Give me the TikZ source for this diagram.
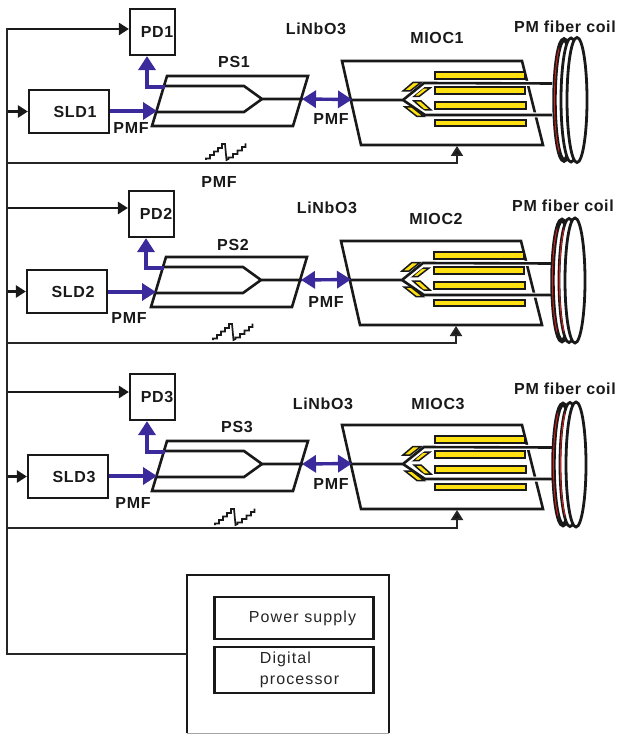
\documentclass[tikz,border=0pt]{standalone}
\usepackage{fontspec}
\setmainfont{Liberation Sans}
\newfontfamily\labf[LetterSpace=4]{Liberation Sans}
\newfontfamily\plainf[LetterSpace=7]{Liberation Sans}
\usetikzlibrary{arrows.meta}
\definecolor{fibreblue}{HTML}{3A2A9B}
\definecolor{chipyellow}{HTML}{FFE010}
\definecolor{coilred}{HTML}{D8201C}
\tikzset{
  lab/.style={inner sep=0pt,text=black!90,font=\labf\bfseries\fontsize{16}{18}\selectfont},
  boxed/.style={draw=black!90,line width=2.2pt,inner sep=0pt,text=black!90,font=\labf\bfseries\fontsize{16}{18}\selectfont},
  chip/.style={draw=black!90,line width=2.6pt,line join=miter},
  guide/.style={draw=black!90,line width=2.6pt,line join=miter},
  halo/.style={draw=white,line width=5pt},
  blue/.style={draw=fibreblue,line width=3.4pt,-{Triangle[length=14pt,width=17pt,fill=fibreblue]}},
  bluetwo/.style={draw=fibreblue,line width=3.4pt,{Triangle[length=14pt,width=17pt,fill=fibreblue]}-{Triangle[length=14pt,width=17pt,fill=fibreblue]}},
  ctl/.style={draw=black!90,line width=2.8pt,-{Triangle[length=10pt,width=12pt,fill=black!90]}},
  bus/.style={draw=black!85,line width=2pt,-{Triangle[length=10pt,width=12pt,fill=black!90]}},
  rail/.style={draw=black!85,line width=2pt},
  elec/.style={fill=chipyellow,draw=black!90,line width=1.5pt},
  coilring/.style={draw=black!90,fill=white,line width=2.8pt},
  saw/.style={draw=black!90,line width=1.7pt},
}
\newcommand\stage[8]{%
  % #1 id, #2 PD shift, #3 SLD shift, #4 PS shift, #5 MIOC shift, #6 bus y, #7 saw x, #8 PD arrow y
  \begin{scope}[shift={(#2)}]
    \node[boxed,minimum width=45pt,minimum height=46pt] (PD#1) at (152.5,32) {\hspace*{9pt}PD#1};
  \end{scope}
  \begin{scope}[shift={(#3)}]
    \node[boxed,minimum width=80pt,minimum height=43pt] (SLD#1) at (69,111.5) {\hspace*{12pt}SLD#1};
  \end{scope}
  \begin{scope}[shift={(#4)}]
    \draw[chip] (167,76) -- (308,76) -- (293,126) -- (152,126) -- cycle;
    \draw[guide] (165,86) -- (244,86) -- (262,99) -- (303,99);
    \draw[guide] (157,112) -- (244,112) -- (262,99);
    \coordinate (PSin#1) at (157,111);
    \coordinate (PStap#1) at (165,87);
    \coordinate (PScorner#1) at (147,87);
    \coordinate (PSout#1) at (302,99);
  \end{scope}
  \begin{scope}[shift={(#5)}]
    \draw[chip] (342,61) -- (522,61) -- (543,145) -- (361,145) -- cycle;
    \draw[elec] (435,72) rectangle (525,79);
    \draw[elec] (435,87) rectangle (525,94);
    \draw[elec] (435,102) rectangle (526,109);
    \draw[elec] (435,120) rectangle (526,126);
    \draw[halo] (403,100) -- (424,83) -- (552,83.5);
    \draw[halo] (403,100) -- (425,115) -- (552,115);
    \draw[elec] (403,91) -- (413,82.5) -- (421,82.5) -- (410,91) -- cycle;
    \draw[elec] (413,96.5) -- (423,88) -- (430,88) -- (419,96.5) -- cycle;
    \draw[elec] (414,101) -- (421,101) -- (431,110) -- (424,110) -- cycle;
    \draw[elec] (405,107) -- (412,107) -- (424,116.5) -- (417,116.5) -- cycle;
    \draw[halo,line width=4pt] (405,100) -- (425,84);
    \draw[halo,line width=4pt] (405,100) -- (426,114);
    \draw[guide] (352,100) -- (403,100) -- (424,83) -- (552,83.5);
    \draw[guide] (403,100) -- (425,115) -- (552,115);
    \coordinate (MIOCin#1) at (352,99.5);
    \coordinate (MIOCb#1) at (457,146);
  \end{scope}
  \draw[blue] (SLD#1.east |- PSin#1) -- (PSin#1);
  \draw[blue] (PStap#1) -- (PScorner#1) -- (PScorner#1 |- PD#1.south);
  \draw[bluetwo] (PSout#1) -- (MIOCin#1);
  \coordinate (RP#1) at (7,#8);
  \coordinate (BUS#1) at (7,#6);
  \draw[ctl] (RP#1) -- (RP#1 -| PD#1.west);
  \draw[ctl] (RP#1 |- SLD#1.west) -- (SLD#1.west);
  \draw[bus] (BUS#1) -| (MIOCb#1);
  \draw[saw] (#7,#6-3) -- ++(0,-1.5) -- ++(4,0) -- ++(0,-3.5) -- ++(4,0) -- ++(0,-3.5) -- ++(4,0) -- ++(0,-3.5) -- ++(4,0) -- ++(0,-4) -- ++(3,0) -- ++(1.5,16) -- ++(2,-1) -- ++(0,-1.5) -- ++(4.5,0) -- ++(0,-3.5) -- ++(4.5,0) -- ++(0,-3.5) -- ++(4.5,0) -- ++(0,-3.5) -- ++(3.5,0) -- ++(0,-3.5);
}
% #1 ring centre x, #2 centre y
\newcommand\redring[2]{%
  \begin{scope}
    \clip (#1-12,#2-70) rectangle (#1-5,#2+70);
    \draw[coilred,line width=0.9pt] (#1,#2) ellipse [x radius=9.6,y radius=60];
  \end{scope}
}
\newcommand\coilat[3]{%
  \draw[coilring,line width=4.4pt] (#1-13,#2) ellipse [x radius=9.5,y radius=60.5];
  \redring{#1-13}{#2}
  \draw[coilring] (#1-6,#2) ellipse [x radius=10,y radius=62];
  #3
  \draw[coilring] (#1,#2) ellipse [x radius=10,y radius=62.5];
}
\begin{document}
\begin{tikzpicture}[x=1pt,y=-1pt]
\useasboundingbox (0,0) rectangle (618,735);
\fill[white] (0,0) rectangle (618,735);

\stage{1}{0,0}{0,0}{0,0}{0,0}{163}{206}{29}
\stage{2}{-1,182}{-2,180}{-1,181}{-1,180}{343}{213}{208}
\stage{3}{0,365}{-1,365}{0,365}{0,364}{528}{215}{392}

\coilat{577}{100}{}
\coilat{575}{280.5}{\redring{569}{280.5}}
\coilat{576}{464.5}{\redring{570}{464.5}}

% control unit
\node[minimum width=202pt,minimum height=158pt,inner sep=0pt] (ctrl) at (288,654) {};
\draw[draw=black!90,line width=2.4pt] (ctrl.south west) -- (ctrl.north west) -- (ctrl.north east) -- (ctrl.south east);
\draw[draw=black!35,line width=1pt] (ctrl.south west) -- (ctrl.south east);
\node[draw=black!90,line width=2.4pt,minimum width=159pt,minimum height=42pt,inner sep=0pt,text=black!85,font=\plainf\fontsize{16}{18}\selectfont] (power) at (294,618) {\hspace*{17pt}Power supply};
\node[draw=black!90,line width=2.4pt,minimum width=159pt,minimum height=46pt,inner sep=0pt,align=left,text=black!85,font=\plainf\fontsize{16}{21}\selectfont] (digital) at (294,670) {\hspace*{11pt}Digital\\\hspace*{11pt}processor};

\coordinate (railtop) at (7,28);
\coordinate (railbot) at (7,654);
\draw[rail] (railtop) -- (railbot) -- (railbot -| ctrl.west);

% labels
\node[lab] (a1) at (131,128) {PMF};
\node[lab] (a2) at (234,62) {PS1};
\node[lab] (a3) at (316,29) {LiNbO3};
\node[lab] (a4) at (437,38) {MIOC1};
\node[lab] (a5) at (565,27) {PM fiber coil};
\node[lab] (a6) at (331,119) {PMF};
\node[lab] (a7) at (219,182) {PMF};
\node[lab] (b1) at (129,318) {PMF};
\node[lab] (b2) at (233,245) {PS2};
\node[lab] (b3) at (327,208) {LiNbO3};
\node[lab] (b4) at (436,219) {MIOC2};
\node[lab] (b5) at (563,206) {PM fiber coil};
\node[lab] (b6) at (326,302) {PMF};
\node[lab] (c1) at (133,503) {PMF};
\node[lab] (c2) at (237,427) {PS3};
\node[lab] (c3) at (323,404) {LiNbO3};
\node[lab] (c4) at (438,404) {MIOC3};
\node[lab] (c5) at (565,389) {PM fiber coil};
\node[lab] (c6) at (331,484) {PMF};
\end{tikzpicture}
\end{document}
